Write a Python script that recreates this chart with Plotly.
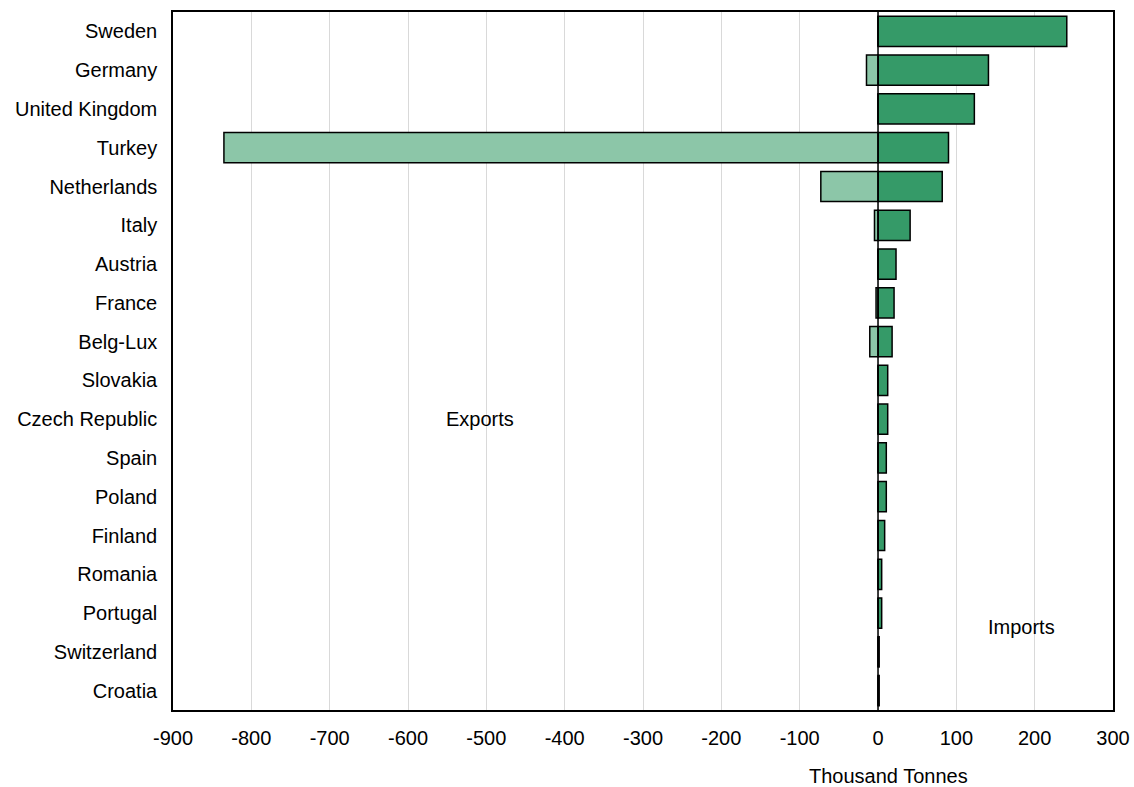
import plotly.graph_objects as go

countries = ["Sweden", "Germany", "United Kingdom", "Turkey", "Netherlands", "Italy",
             "Austria", "France", "Belg-Lux", "Slovakia", "Czech Republic", "Spain",
             "Poland", "Finland", "Romania", "Portugal", "Switzerland", "Croatia"]
imports = [241, 141, 123, 90, 82, 41, 23, 20.5, 18, 12.4, 12.4, 10.6, 10.6, 8.5, 4.7, 4.7, 1.5, 1.5]
exports = [0, -14.7, 0, -835, -73, -4.5, 0, -2.5, -10.5, 0, 0, 0, 0, 0, 0, 0, 0, 0]
x_ticks = list(range(-900, 301, 100))

FONT = "Liberation Sans, Arial, sans-serif"
FS = 20

fig = go.Figure()
fig.add_trace(go.Bar(
    y=countries, x=imports, orientation="h", name="Imports",
    marker=dict(color="#359A68", line=dict(color="#000000", width=1.5)),
))
fig.add_trace(go.Bar(
    y=countries, x=exports, orientation="h", name="Exports",
    marker=dict(color="#8CC6A8", line=dict(color="#000000", width=1.5)),
))
# zero line on top
fig.add_shape(type="line", x0=0, x1=0, y0=0, y1=1, xref="x", yref="paper",
              line=dict(color="#000000", width=1.5))

fig.add_annotation(x=-508, y="Czech Republic", text="Exports", showarrow=False,
                   font=dict(family=FONT, size=FS, color="#000000"))
fig.add_annotation(x=183, y=15.36, yref="y", text="Imports", showarrow=False,
                   font=dict(family=FONT, size=FS, color="#000000"))
fig.add_annotation(x=14, y=-0.094, yref="paper", text="Thousand Tonnes", showarrow=False,
                   font=dict(family=FONT, size=FS, color="#000000"), yanchor="middle")

fig.update_layout(
    width=1134, height=787,
    margin=dict(l=173, r=21, t=12, b=77, autoexpand=False),
    barmode="overlay", bargap=0.22,
    showlegend=False,
    plot_bgcolor="#FFFFFF", paper_bgcolor="#FFFFFF",
    font=dict(family=FONT, size=FS, color="#000000"),
    xaxis=dict(range=[-900, 300], tickvals=x_ticks, ticktext=[str(v) for v in x_ticks],
               showgrid=True, gridcolor="#D9D9D9", gridwidth=1, zeroline=False,
               showline=True, linecolor="#000000", linewidth=1.5, mirror=True,
               ticks="", ticklabelstandoff=9, tickfont=dict(size=FS), automargin=False),
    yaxis=dict(autorange="reversed", showgrid=False, zeroline=False,
               showline=True, linecolor="#000000", linewidth=1.5, mirror=True,
               ticks="", ticklabelstandoff=10, tickfont=dict(size=FS), automargin=False),
)

fig.write_html("out.html", config={"displayModeBar": False},
               post_script="document.body.style.margin='0';")
